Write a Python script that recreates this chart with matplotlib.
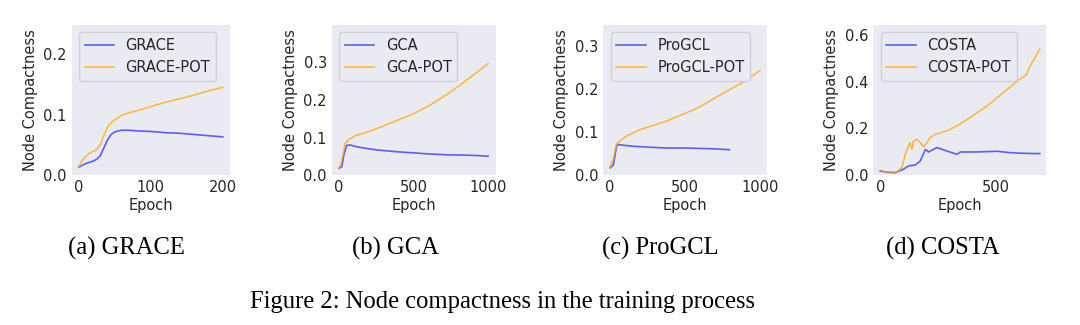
import matplotlib
matplotlib.use("Agg")
import matplotlib.pyplot as plt

# ---------------- data ----------------
grace_epochs = [0, 5, 10, 15, 20, 25, 30, 35, 40, 45, 50, 55, 60, 70, 80, 100, 120, 140, 160, 180, 200]
grace_base = [0.013, 0.016, 0.019, 0.021, 0.023, 0.026, 0.032, 0.045, 0.058, 0.067, 0.071, 0.073, 0.074,
              0.074, 0.073, 0.072, 0.070, 0.069, 0.067, 0.065, 0.063]
grace_pot = [0.013, 0.024, 0.031, 0.036, 0.039, 0.042, 0.050, 0.066, 0.079, 0.086, 0.091, 0.095, 0.099,
             0.103, 0.106, 0.113, 0.120, 0.126, 0.132, 0.139, 0.145]

gca_epochs_base = [0, 18, 33, 51, 74, 100, 163, 250, 386, 500, 609, 720, 833, 920, 1000]
gca_base = [0.018, 0.022, 0.056, 0.079, 0.080, 0.077, 0.072, 0.067, 0.062, 0.059, 0.056, 0.054, 0.053, 0.052, 0.050]
gca_epochs_pot = [0, 18, 40, 62, 118, 208, 300, 386, 498, 609, 721, 833, 922, 1000]
gca_pot = [0.018, 0.038, 0.083, 0.094, 0.106, 0.117, 0.131, 0.145, 0.163, 0.186, 0.214, 0.246, 0.273, 0.297]

progcl_epochs_base = [0, 22, 44, 56, 100, 156, 250, 378, 500, 600, 700, 796]
progcl_base = [0.017, 0.023, 0.068, 0.071, 0.069, 0.067, 0.065, 0.063, 0.063, 0.062, 0.061, 0.059]
progcl_epochs_pot = [0, 22, 44, 67, 111, 200, 300, 378, 489, 600, 711, 822, 911, 1000]
progcl_pot = [0.018, 0.037, 0.072, 0.080, 0.091, 0.106, 0.117, 0.126, 0.142, 0.159, 0.182, 0.204, 0.221, 0.244]

costa_epochs_base = [0, 30, 65, 101, 123, 152, 174, 196, 210, 246, 290, 333, 348, 420, 507, 565, 630, 693]
costa_base = [0.017, 0.012, 0.010, 0.025, 0.039, 0.043, 0.060, 0.110, 0.099, 0.118, 0.103, 0.089, 0.099,
              0.099, 0.102, 0.096, 0.093, 0.092]
costa_epochs_pot = [0, 29, 72, 94, 109, 123, 130, 138, 145, 159, 174, 188, 203, 217, 239, 290, 333, 391,
                    464, 536, 580, 616, 634, 652, 693]
costa_pot = [0.020, 0.010, 0.012, 0.032, 0.089, 0.125, 0.139, 0.110, 0.147, 0.154, 0.139, 0.121, 0.139,
             0.161, 0.175, 0.190, 0.211, 0.247, 0.297, 0.355, 0.391, 0.419, 0.430, 0.470, 0.542]

panels = [
    dict(name="GRACE", xb=grace_epochs, yb=grace_base, xp=grace_epochs, yp=grace_pot,
         xlim=(-10, 210), ylim=(0, 0.248), yticks=[0.0, 0.1, 0.2], xticks=[0, 100, 200],
         caption="(a) GRACE"),
    dict(name="GCA", xb=gca_epochs_base, yb=gca_base, xp=gca_epochs_pot, yp=gca_pot,
         xlim=(-50, 1050), ylim=(0, 0.40), yticks=[0.0, 0.1, 0.2, 0.3], xticks=[0, 500, 1000],
         caption="(b) GCA"),
    dict(name="ProGCL", xb=progcl_epochs_base, yb=progcl_base, xp=progcl_epochs_pot, yp=progcl_pot,
         xlim=(-45, 1045), ylim=(0, 0.35), yticks=[0.0, 0.1, 0.2, 0.3], xticks=[0, 500, 1000],
         caption="(c) ProGCL"),
    dict(name="COSTA", xb=costa_epochs_base, yb=costa_base, xp=costa_epochs_pot, yp=costa_pot,
         xlim=(-30, 720), ylim=(0, 0.645), yticks=[0.0, 0.2, 0.4, 0.6], xticks=[0, 500],
         caption="(d) COSTA"),
]

# ---------------- layout (pixels) ----------------
W, H = 1080, 325
axes_px = [(71.5, 230.0), (331.7, 495.5), (603.3, 766.7), (873.3, 1046.0)]
ax_top, ax_bottom = 25.0, 175.0
caption_x = [126.5, 395.0, 660.0, 943.0]
caption_y = 255.0

fig = plt.figure(figsize=(W / 100, H / 100), dpi=100)
fig.patch.set_facecolor("white")

text_color = "#262626"
fs = 10.5

for p, (l, r), cx in zip(panels, axes_px, caption_x):
    ax = fig.add_axes([l / W, 1 - ax_bottom / H, (r - l) / W, (ax_bottom - ax_top) / H])
    ax.set_facecolor("#EAEAF2")
    for s in ax.spines.values():
        s.set_visible(False)
    ax.plot(p["xb"], p["yb"], color="blue", alpha=0.6, lw=1.2, label=p["name"])
    ax.plot(p["xp"], p["yp"], color="orange", alpha=0.7, lw=1.2, label=p["name"] + "-POT")
    ax.set_xlim(*p["xlim"])
    ax.set_ylim(*p["ylim"])
    ax.set_xticks(p["xticks"])
    ax.set_yticks(p["yticks"])
    ax.set_yticklabels([f"{v:.1f}" for v in p["yticks"]])
    ax.tick_params(length=0, pad=3.5, labelsize=fs, colors=text_color)
    ax.set_xlabel("Epoch", fontsize=fs, color=text_color, labelpad=2)
    ax.set_ylabel("Node Compactness", fontsize=fs, color=text_color, labelpad=4)
    leg = ax.legend(loc="upper left", fontsize=fs, frameon=True, facecolor="#EAEAF2",
                    edgecolor="#D0D0D8", framealpha=1.0, handlelength=2.0)
    for t in leg.get_texts():
        t.set_color(text_color)
    fig.text(cx / W, 1 - caption_y / H, p["caption"], ha="center", va="baseline",
             fontsize=17.7, family="Liberation Serif", color="black")

fig.text(503 / W, 1 - 308 / H, "Figure 2: Node compactness in the training process",
         ha="center", va="baseline", fontsize=17.7, family="Liberation Serif", color="black")

fig.savefig("out.png", dpi=100, facecolor="white")
